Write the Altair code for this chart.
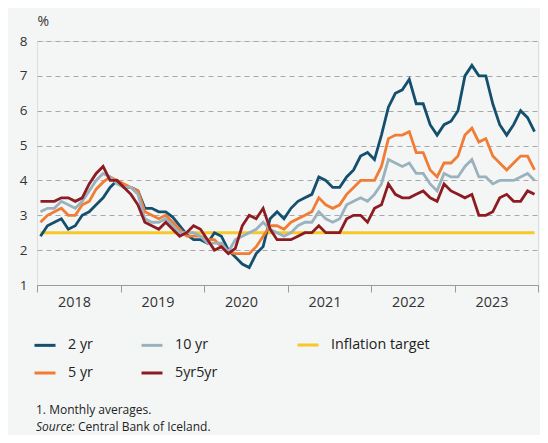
import altair as alt
import pandas as pd

YEARS = ["2018", "2019", "2020", "2021", "2022", "2023"]
SERIES = ["2 yr", "5 yr", "10 yr", "5yr5yr"]

Y2 = [2.4, 2.7, 2.8, 2.9, 2.6, 2.7, 3.0, 3.1, 3.3, 3.5, 3.8, 4.0,
      3.8, 3.8, 3.7, 3.2, 3.2, 3.1, 3.1, 2.95, 2.7, 2.45, 2.3, 2.3,
      2.2, 2.5, 2.4, 2.0, 1.8, 1.6, 1.5, 1.9, 2.1, 2.9, 3.1, 2.9,
      3.2, 3.4, 3.5, 3.6, 4.1, 4.0, 3.8, 3.8, 4.1, 4.3, 4.7, 4.8,
      4.6, 5.3, 6.1, 6.5, 6.6, 6.9, 6.2, 6.2, 5.6, 5.3, 5.6, 5.7,
      6.0, 7.0, 7.3, 7.0, 7.0, 6.2, 5.6, 5.3, 5.6, 6.0, 5.8, 5.4]
Y5 = [2.8, 3.0, 3.1, 3.2, 3.0, 3.0, 3.3, 3.4, 3.75, 3.95, 4.1, 4.0,
      3.9, 3.8, 3.7, 3.1, 3.0, 2.9, 3.0, 2.8, 2.6, 2.4, 2.4, 2.4,
      2.3, 2.3, 2.1, 1.95, 1.9, 1.9, 1.9, 2.1, 2.4, 2.7, 2.7, 2.6,
      2.8, 2.9, 3.0, 3.1, 3.5, 3.3, 3.2, 3.3, 3.6, 3.8, 4.0, 4.0,
      4.0, 4.4, 5.2, 5.3, 5.3, 5.4, 4.8, 4.8, 4.3, 4.1, 4.5, 4.5,
      4.7, 5.3, 5.5, 5.1, 5.2, 4.7, 4.5, 4.3, 4.5, 4.7, 4.7, 4.3]
Y10 = [3.1, 3.2, 3.2, 3.4, 3.3, 3.2, 3.4, 3.7, 4.0, 4.2, 4.1, 3.9,
       3.8, 3.8, 3.6, 2.9, 2.8, 2.8, 2.9, 2.7, 2.5, 2.5, 2.5, 2.4,
       2.2, 2.2, 2.2, 1.95, 2.3, 2.4, 2.5, 2.6, 2.8, 2.6, 2.5, 2.4,
       2.5, 2.7, 2.8, 2.8, 3.1, 2.9, 2.8, 2.9, 3.3, 3.4, 3.5, 3.4,
       3.6, 3.9, 4.6, 4.5, 4.4, 4.5, 4.2, 4.2, 3.9, 3.7, 4.2, 4.1,
       4.1, 4.4, 4.6, 4.1, 4.1, 3.9, 4.0, 4.0, 4.0, 4.1, 4.2, 4.0]
Y5Y5 = [3.4, 3.4, 3.4, 3.5, 3.5, 3.4, 3.5, 3.9, 4.2, 4.4, 4.0, 4.0,
        3.8, 3.6, 3.3, 2.8, 2.7, 2.6, 2.8, 2.6, 2.4, 2.5, 2.7, 2.6,
        2.3, 2.0, 2.1, 1.9, 2.05, 2.7, 3.0, 2.9, 3.2, 2.6, 2.3, 2.3,
        2.3, 2.4, 2.5, 2.5, 2.7, 2.5, 2.5, 2.5, 2.9, 3.0, 3.0, 2.8,
        3.2, 3.3, 3.9, 3.6, 3.5, 3.5, 3.6, 3.7, 3.5, 3.4, 3.9, 3.7,
        3.6, 3.5, 3.6, 3.0, 3.0, 3.1, 3.5, 3.6, 3.4, 3.4, 3.7, 3.6]
INFLATION_TARGET = 2.5
TARGET_LABEL = "Inflation target"
Y_TICKS = [1, 2, 3, 4, 5, 6, 7, 8]
FOOTNOTE = "1. Monthly averages."
SOURCE_LABEL = "Source:"
SOURCE_TEXT = "Central Bank of Iceland."

COLORS = {
    "2 yr": "#14506e",
    "5 yr": "#f07c35",
    "10 yr": "#9ab2be",
    "5yr5yr": "#8c1c22",
    TARGET_LABEL: "#f6c928",
}
FONT = "Open Sans"

n = len(Y2)
rows = []
for name, vals in zip(SERIES, [Y2, Y5, Y10, Y5Y5]):
    for i, v in enumerate(vals):
        rows.append({"m": i, "series": name, "value": v})
df = pd.DataFrame(rows)
target_df = pd.DataFrame({"m": [0], "m2": [n - 1], "value": [INFLATION_TARGET],
                          "series": [TARGET_LABEL]})

legend_common = dict(
    title=None, orient="none", legendY=292,
    symbolType="stroke", symbolSize=441, symbolStrokeWidth=3,
    labelFontSize=14.3, labelFont=FONT, labelColor="#222", labelOffset=11,
    rowPadding=8, padding=0,
)
series_legend = alt.Legend(legendX=-4, columns=2, columnPadding=42,
                           gridAlign="each", **legend_common)
target_legend = alt.Legend(legendX=259, **legend_common)

series_color = alt.Color("series:N", scale=alt.Scale(domain=SERIES,
                         range=[COLORS[k] for k in SERIES]), legend=series_legend)
target_color = alt.Color("series:N", scale=alt.Scale(domain=[TARGET_LABEL],
                         range=[COLORS[TARGET_LABEL]]), legend=target_legend)

tick_vals = [12 * k - 0.5 for k in range(len(YEARS) + 1)]
years_js = "[" + ",".join("'%s'" % y for y in YEARS) + "]"
x_axis = alt.Axis(
    values=tick_vals, grid=False, title=None,
    labelExpr="datum.value > %d ? '' : %s[round((datum.value + 0.5) / 12)]" % (n - 2, years_js),
    labelOffset=37, tickSize=7, tickColor="#9a9a9a", domainColor="#9a9a9a",
    labelFontSize=14.4, labelFont=FONT, labelColor="#333", labelPadding=3,
    labelFlush=False, labelOverlap=False, zindex=1,
)
y_axis = alt.Axis(
    values=Y_TICKS, grid=True, gridDash=[5, 4], gridColor="#a8a8a8",
    domain=False, ticks=False, labelPadding=10, labelFontSize=13.5,
    labelFont=FONT, labelColor="#333",
    title="%", titleAngle=0, titleX=0, titleY=-16, titleAlign="left",
    titleBaseline="alphabetic", titleFontWeight="normal", titleFontSize=14,
    titleFont=FONT, titleColor="#333",
)
x_scale = alt.Scale(domain=[-0.5, n - 0.5], nice=False, zero=False)
y_scale = alt.Scale(domain=[1, 8], nice=False, zero=False)

target = alt.Chart(target_df).mark_rule(strokeWidth=3).encode(
    x=alt.X("m:Q", scale=x_scale, axis=x_axis),
    x2="m2:Q",
    y=alt.Y("value:Q", scale=y_scale, axis=y_axis),
    color=target_color,
)
lines = alt.Chart(df).mark_line(strokeWidth=2.8).encode(
    x=alt.X("m:Q", scale=x_scale, axis=x_axis),
    y=alt.Y("value:Q", scale=y_scale, axis=y_axis),
    color=series_color,
    detail="series:N",
)

note1 = alt.Chart(pd.DataFrame({"t": [FOOTNOTE]})).mark_text(
    align="left", baseline="alphabetic", fontSize=12, font=FONT, color="#222"
).encode(x=alt.value(-1), y=alt.value(373), text="t:N")
note2 = alt.Chart(pd.DataFrame({"t": [SOURCE_LABEL]})).mark_text(
    align="left", baseline="alphabetic", fontSize=12, font=FONT, color="#222", fontStyle="italic"
).encode(x=alt.value(-1), y=alt.value(390), text="t:N")
note3 = alt.Chart(pd.DataFrame({"t": [SOURCE_TEXT]})).mark_text(
    align="left", baseline="alphabetic", fontSize=12, font=FONT, color="#222"
).encode(x=alt.value(41), y=alt.value(390), text="t:N")

chart = alt.layer(target, lines, note1, note2, note3).resolve_scale(
    color="independent"
).properties(
    width=501, height=244,
    autosize=alt.AutoSizeParams(type="none"),
    padding={"left": 29, "top": 33, "right": 2, "bottom": 150},
    background="#f4f6f6",
).configure_view(stroke=None).configure(font=FONT)

chart.save("out.html", embed_options={"renderer": "svg", "actions": False})
